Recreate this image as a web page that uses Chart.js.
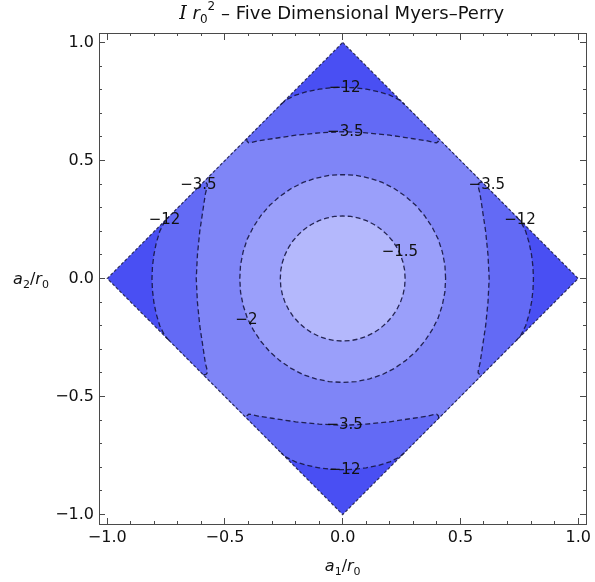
<!DOCTYPE html>
<html>
<head>
<meta charset="utf-8">
<script src="https://cdn.jsdelivr.net/npm/chart.js@4.4.1/dist/chart.umd.min.js"></script>
<style>
  html, body { margin: 0; padding: 0; background: #ffffff; }
  canvas { display: block; }
</style>
</head>
<body>
<canvas id="c" width="595" height="582"></canvas>
<script>
// Contour levels of I r0^2 over the allowed spin region |a1| + |a2| <= 1
const levels = [-12, -3.5, -2, -1.5];

// Edge of the allowed region
const boundary = [[0, 1], [1, 0], [0, -1], [-1, 0], [0, 1]];

// Level -12: upper piece, from the upper-left edge to the upper-right edge
const level12Top = [
  [-0.262, 0.738], [-0.24, 0.757], [-0.2, 0.777], [-0.15, 0.792], [-0.1, 0.802],
  [-0.05, 0.808], [0, 0.810], [0.05, 0.808], [0.1, 0.802], [0.15, 0.792],
  [0.2, 0.777], [0.24, 0.757], [0.262, 0.738]
];

// Level -3.5: upper piece, with its small hooks where it meets the edge
const level35Top = [
  [-0.408, 0.592], [-0.406, 0.581], [-0.399, 0.575], [-0.387, 0.576], [-0.36, 0.583],
  [-0.3, 0.592], [-0.26, 0.598], [-0.2, 0.607], [-0.1, 0.617], [0, 0.622],
  [0.1, 0.617], [0.2, 0.607], [0.26, 0.598], [0.3, 0.592], [0.36, 0.583],
  [0.387, 0.576], [0.399, 0.575], [0.406, 0.581], [0.408, 0.592]
];

// Level -2 and level -1.5: first-quadrant arcs, from the a1 axis to the a2 axis
const level2Quarter = [
  [0.437, 0], [0.434, 0.057], [0.423, 0.113], [0.405, 0.168], [0.379, 0.219], [0.347, 0.267],
  [0.310, 0.310], [0.267, 0.348], [0.219, 0.381], [0.168, 0.407], [0.114, 0.425], [0.057, 0.437], [0, 0.440]
];
const level15Quarter = [
  [0.265, 0], [0.263, 0.035], [0.256, 0.069], [0.245, 0.101], [0.229, 0.133], [0.210, 0.161],
  [0.187, 0.187], [0.161, 0.210], [0.133, 0.229], [0.101, 0.245], [0.069, 0.256], [0.035, 0.263], [0, 0.265]
];

// Fill colours, from the lowest band (below -12) to the highest (above -1.5)
const bandColors = ['rgb(73,79,243)', 'rgb(99,106,245)', 'rgb(127,133,247)', 'rgb(154,159,250)', 'rgb(180,184,252)'];

// Inline contour labels
const labelText = ['\u221212', '\u22123.5', '\u22123.5', '\u221212', '\u22123.5', '\u221212', '\u22121.5', '\u22122', '\u22123.5', '\u221212'];
const labelA1 = [0.008, 0.011, -0.613, -0.757, 0.612, 0.753, 0.243, -0.409, 0.008, 0.008];
const labelA2 = [0.806, 0.622, 0.396, 0.248, 0.396, 0.248, 0.112, -0.176, -0.620, -0.810];

// Axis ticks
const tickValues = [-1, -0.5, 0, 0.5, 1];
const tickLabels = ['\u22121.0', '\u22120.5', '0.0', '0.5', '1.0'];

// ---- geometry helpers (symmetries of the region) ----
const rotations = [
  p => [p[0], p[1]],      // top
  p => [p[1], -p[0]],     // right
  p => [-p[0], -p[1]],    // bottom
  p => [-p[1], p[0]]      // left
];
const sides = piece => rotations.map(r => piece.map(r));
const ring = q => [
  ...q,
  ...q.slice(0, -1).reverse().map(([a, b]) => [-a, b]),
  ...q.slice(1).map(([a, b]) => [-a, -b]),
  ...q.slice(0, -1).reverse().map(([a, b]) => [a, -b])
];
const toXY = pts => pts.map(([a, b]) => ({ x: a, y: b }));

const datasets = [];
function addFill(pts, color) {
  datasets.push({
    data: toXY(pts), fill: 'shape', backgroundColor: color,
    borderColor: 'rgba(0,0,0,0)', borderWidth: 0, tension: 0,
    pointRadius: 0, pointHoverRadius: 0
  });
}
function addLine(pts, color, dash, width) {
  datasets.push({
    data: toXY(pts), fill: false, borderColor: color, borderWidth: width,
    borderDash: dash, tension: 0, pointRadius: 0, pointHoverRadius: 0
  });
}

// bands, back to front
addFill(boundary, bandColors[0]);
addFill([].concat(...sides(level12Top)), bandColors[1]);
addFill([].concat(...sides(level35Top)), bandColors[2]);
addFill(ring(level2Quarter), bandColors[3]);
addFill(ring(level15Quarter), bandColors[4]);

// dashed contour lines and region edge
const lineColor = 'rgba(22,22,64,0.9)';
const dash = [5, 3];
sides(level12Top).forEach(p => addLine(p, lineColor, dash, 1.3));
sides(level35Top).forEach(p => addLine(p, lineColor, dash, 1.3));
addLine(ring(level2Quarter), lineColor, dash, 1.3);
addLine(ring(level15Quarter), lineColor, dash, 1.3);
addLine(boundary, 'rgba(25,25,65,0.85)', [3, 2], 1.2);

datasets.forEach((d, i) => { d.order = datasets.length - i; });

const X_MIN = -1.035, X_MAX = 1.035, Y_MIN = -1.04, Y_MAX = 1.04;
const frameColor = '#4a4a4a';

function tickAxis(axis, position, step, len, showBorder) {
  const isX = axis === 'x';
  return {
    type: 'linear', axis, position,
    min: isX ? X_MIN : Y_MIN, max: isX ? X_MAX : Y_MAX,
    ticks: { display: false, stepSize: step, includeBounds: false },
    grid: { display: true, drawOnChartArea: false, drawTicks: true, tickLength: len, tickColor: frameColor, tickWidth: 1 },
    border: { display: showBorder, color: frameColor, width: 1 }
  };
}

const fmt = v => {
  const i = tickValues.findIndex(t => Math.abs(t - v) < 1e-9);
  return i >= 0 ? tickLabels[i] : '';
};

// Title, axis titles and contour labels
function drawRich(ctx, parts, cx, base) {
  let w = 0;
  parts.forEach(p => { ctx.font = p.f; p.w = ctx.measureText(p.t).width; w += p.w; });
  let xx = cx - w / 2;
  ctx.textAlign = 'left';
  ctx.textBaseline = 'alphabetic';
  parts.forEach(p => { ctx.font = p.f; ctx.fillText(p.t, xx, base + (p.dy || 0)); xx += p.w; });
}

const textPlugin = {
  id: 'chartText',
  afterDraw(chart) {
    const { ctx, scales: { x, y }, chartArea } = chart;
    ctx.save();
    ctx.fillStyle = '#111111';
    ctx.font = '15px "DejaVu Sans"';
    ctx.textAlign = 'center';
    ctx.textBaseline = 'middle';
    labelText.forEach((t, i) => {
      ctx.fillText(t, x.getPixelForValue(labelA1[i]), y.getPixelForValue(labelA2[i]));
    });

    const cx = (chartArea.left + chartArea.right) / 2;
    drawRich(ctx, [
      { t: 'I', f: 'italic 19px "DejaVu Serif"' },
      { t: ' ', f: '18px "DejaVu Sans"' },
      { t: 'r', f: 'italic 18px "DejaVu Sans"' },
      { t: '0', f: '12px "DejaVu Sans"', dy: 4 },
      { t: '2', f: '12px "DejaVu Sans"', dy: -9 },
      { t: ' \u2013 Five Dimensional Myers\u2013Perry', f: '18px "DejaVu Sans"' }
    ], cx - 1, 19);

    drawRich(ctx, [
      { t: 'a', f: 'italic 16px "DejaVu Sans"' },
      { t: '1', f: '11px "DejaVu Sans"', dy: 4 },
      { t: '/', f: '16px "DejaVu Sans"' },
      { t: 'r', f: 'italic 16px "DejaVu Sans"' },
      { t: '0', f: '11px "DejaVu Sans"', dy: 4 }
    ], cx, 571);

    drawRich(ctx, [
      { t: 'a', f: 'italic 16px "DejaVu Sans"' },
      { t: '2', f: '11px "DejaVu Sans"', dy: 4 },
      { t: '/', f: '16px "DejaVu Sans"' },
      { t: 'r', f: 'italic 16px "DejaVu Sans"' },
      { t: '0', f: '11px "DejaVu Sans"', dy: 4 }
    ], 31, 284);
    ctx.restore();
  }
};

Chart.defaults.font.family = '"DejaVu Sans"';

new Chart(document.getElementById('c'), {
  type: 'line',
  data: { datasets },
  options: {
    responsive: false,
    animation: false,
    devicePixelRatio: 1,
    events: [],
    layout: { padding: { top: 33, right: 6, left: 0, bottom: 0 } },
    plugins: { legend: { display: false }, tooltip: { enabled: false }, title: { display: false } },
    scales: {
      x: {
        type: 'linear', position: 'bottom', min: X_MIN, max: X_MAX,
        afterFit: s => { s.height = 58; },
        ticks: {
          stepSize: 0.5, includeBounds: false, callback: fmt, color: '#111111',
          font: { family: '"DejaVu Sans"', size: 16 }, padding: 4, maxRotation: 0, autoSkip: false
        },
        grid: { display: false, drawTicks: false },
        border: { display: true, color: frameColor, width: 1 }
      },
      y: {
        type: 'linear', position: 'left', min: Y_MIN, max: Y_MAX,
        afterFit: s => { s.width = 99; },
        ticks: {
          stepSize: 0.5, includeBounds: false, callback: fmt, color: '#111111',
          font: { family: '"DejaVu Sans"', size: 16 }, padding: 5, autoSkip: false
        },
        grid: { display: false, drawTicks: false },
        border: { display: true, color: frameColor, width: 1 }
      },
      xMajB: tickAxis('x', { y: Y_MIN }, 0.5, -6, false),
      xMinB: tickAxis('x', { y: Y_MIN }, 0.1, -3, false),
      xMajT: tickAxis('x', { y: Y_MAX }, 0.5, 6, true),
      xMinT: tickAxis('x', { y: Y_MAX }, 0.1, 3, false),
      yMajL: tickAxis('y', { x: X_MIN }, 0.5, -6, false),
      yMinL: tickAxis('y', { x: X_MIN }, 0.1, -3, false),
      yMajR: tickAxis('y', { x: X_MAX }, 0.5, 6, true),
      yMinR: tickAxis('y', { x: X_MAX }, 0.1, 3, false)
    }
  },
  plugins: [textPlugin]
});
</script>
</body>
</html>
